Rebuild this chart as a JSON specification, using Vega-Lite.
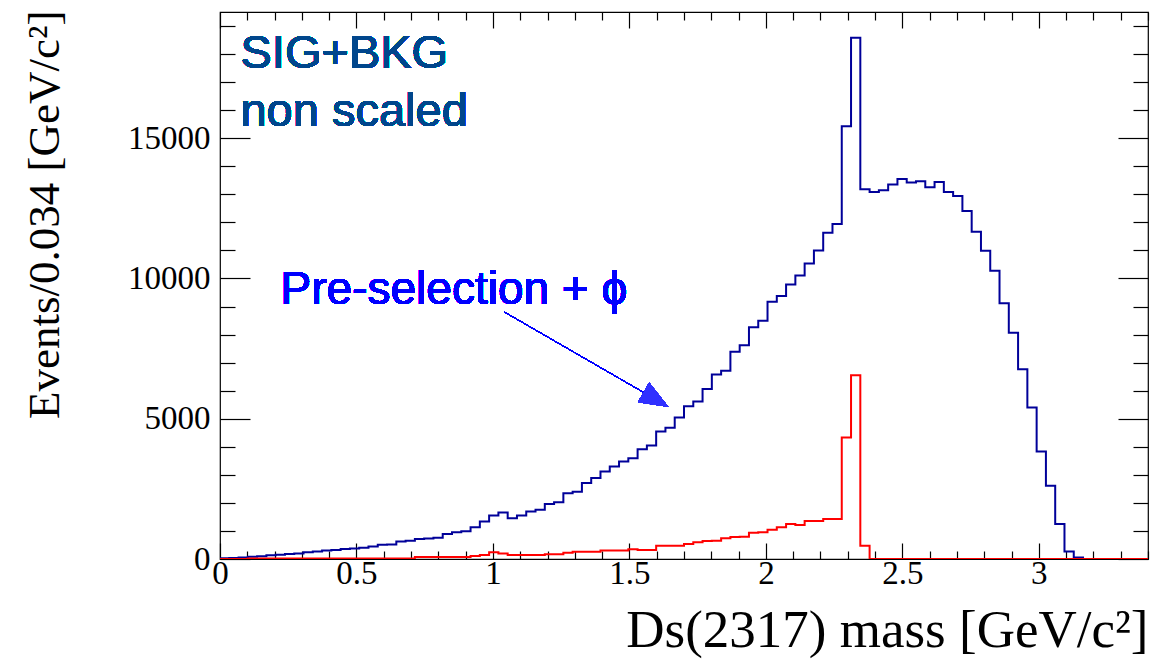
{
  "$schema": "https://vega.github.io/schema/vega-lite/v6.json",
  "width": 928,
  "height": 547,
  "autosize": {"type": "none"},
  "padding": {"left": 220, "top": 12, "right": 7, "bottom": 100},
  "background": "white",
  "config": {
    "view": {"stroke": "#000", "strokeWidth": 1.2},
    "axis": {"grid": false, "domain": false, "tickColor": "#000", "tickWidth": 1.2, "labelColor": "#000", "titleColor": "#000", "labelFont": "Liberation Serif", "titleFont": "Liberation Serif", "titleFontWeight": "normal"}
  },
  "data": {
    "values": [
      {"m": 0, "sb": 30, "s": 0}, {"m": 0.034, "sb": 40, "s": 0}, {"m": 0.068, "sb": 50, "s": 0},
      {"m": 0.102, "sb": 80, "s": 20}, {"m": 0.136, "sb": 100, "s": 20}, {"m": 0.17, "sb": 130, "s": 20},
      {"m": 0.204, "sb": 150, "s": 20}, {"m": 0.238, "sb": 180, "s": 20}, {"m": 0.272, "sb": 200, "s": 20},
      {"m": 0.306, "sb": 240, "s": 20}, {"m": 0.34, "sb": 270, "s": 20}, {"m": 0.374, "sb": 300, "s": 20},
      {"m": 0.408, "sb": 320, "s": 20}, {"m": 0.442, "sb": 360, "s": 20}, {"m": 0.476, "sb": 370, "s": 20},
      {"m": 0.51, "sb": 400, "s": 20}, {"m": 0.544, "sb": 450, "s": 20}, {"m": 0.578, "sb": 510, "s": 20},
      {"m": 0.612, "sb": 520, "s": 20}, {"m": 0.646, "sb": 620, "s": 20}, {"m": 0.68, "sb": 650, "s": 20},
      {"m": 0.714, "sb": 710, "s": 70}, {"m": 0.748, "sb": 730, "s": 70}, {"m": 0.782, "sb": 760, "s": 70},
      {"m": 0.816, "sb": 890, "s": 70}, {"m": 0.85, "sb": 950, "s": 70}, {"m": 0.884, "sb": 990, "s": 70},
      {"m": 0.918, "sb": 1130, "s": 110}, {"m": 0.952, "sb": 1340, "s": 140}, {"m": 0.986, "sb": 1550, "s": 237},
      {"m": 1.02, "sb": 1660, "s": 200}, {"m": 1.054, "sb": 1455, "s": 140}, {"m": 1.088, "sb": 1550, "s": 140},
      {"m": 1.122, "sb": 1690, "s": 140}, {"m": 1.156, "sb": 1755, "s": 140}, {"m": 1.19, "sb": 1965, "s": 165},
      {"m": 1.224, "sb": 2025, "s": 165}, {"m": 1.258, "sb": 2340, "s": 220}, {"m": 1.292, "sb": 2400, "s": 260},
      {"m": 1.326, "sb": 2706, "s": 260}, {"m": 1.36, "sb": 2884, "s": 260}, {"m": 1.394, "sb": 3120, "s": 300},
      {"m": 1.428, "sb": 3298, "s": 300}, {"m": 1.462, "sb": 3476, "s": 300}, {"m": 1.496, "sb": 3595, "s": 345},
      {"m": 1.53, "sb": 3916, "s": 320}, {"m": 1.564, "sb": 4050, "s": 320}, {"m": 1.598, "sb": 4544, "s": 475},
      {"m": 1.632, "sb": 4675, "s": 475}, {"m": 1.666, "sb": 5042, "s": 475}, {"m": 1.7, "sb": 5445, "s": 534},
      {"m": 1.734, "sb": 5611, "s": 594}, {"m": 1.768, "sb": 6063, "s": 641}, {"m": 1.802, "sb": 6575, "s": 653},
      {"m": 1.836, "sb": 6715, "s": 736}, {"m": 1.87, "sb": 7391, "s": 783}, {"m": 1.904, "sb": 7617, "s": 795},
      {"m": 1.938, "sb": 8258, "s": 938}, {"m": 1.972, "sb": 8495, "s": 950}, {"m": 2.006, "sb": 9171, "s": 1045},
      {"m": 2.04, "sb": 9373, "s": 1128}, {"m": 2.074, "sb": 9790, "s": 1246}, {"m": 2.108, "sb": 10110, "s": 1211},
      {"m": 2.142, "sb": 10538, "s": 1353}, {"m": 2.176, "sb": 11000, "s": 1353}, {"m": 2.21, "sb": 11627, "s": 1424},
      {"m": 2.244, "sb": 11940, "s": 1424}, {"m": 2.278, "sb": 15425, "s": 4333}, {"m": 2.312, "sb": 18583, "s": 6552},
      {"m": 2.346, "sb": 13183, "s": 475}, {"m": 2.38, "sb": 13087, "s": 0}, {"m": 2.414, "sb": 13147, "s": 0},
      {"m": 2.448, "sb": 13350, "s": 0}, {"m": 2.482, "sb": 13550, "s": 0}, {"m": 2.516, "sb": 13420, "s": 0},
      {"m": 2.55, "sb": 13470, "s": 0}, {"m": 2.584, "sb": 13250, "s": 0}, {"m": 2.618, "sb": 13443, "s": 0},
      {"m": 2.652, "sb": 13087, "s": 0}, {"m": 2.686, "sb": 12944, "s": 0}, {"m": 2.72, "sb": 12410, "s": 0},
      {"m": 2.754, "sb": 11670, "s": 0}, {"m": 2.788, "sb": 10986, "s": 0}, {"m": 2.822, "sb": 10274, "s": 0},
      {"m": 2.856, "sb": 9114, "s": 0}, {"m": 2.89, "sb": 8067, "s": 0}, {"m": 2.924, "sb": 6764, "s": 0},
      {"m": 2.958, "sb": 5397, "s": 0}, {"m": 2.992, "sb": 3831, "s": 0}, {"m": 3.026, "sb": 2609, "s": 0},
      {"m": 3.06, "sb": 1246, "s": 0}, {"m": 3.094, "sb": 270, "s": 0}, {"m": 3.128, "sb": 57, "s": 0},
      {"m": 3.162, "sb": 0, "s": 0}, {"m": 3.196, "sb": 0, "s": 0}, {"m": 3.23, "sb": 0, "s": 0},
      {"m": 3.264, "sb": 0, "s": 0}, {"m": 3.298, "sb": 0, "s": 0}, {"m": 3.332, "sb": 0, "s": 0},
      {"m": 3.366, "sb": 0, "s": 0}, {"m": 3.4, "sb": 0, "s": 0}
    ]
  },
  "layer": [
    {
      "mark": {"type": "line", "interpolate": "step-after", "color": "#000099", "strokeWidth": 2, "clip": true},
      "encoding": {
        "x": {
          "field": "m", "type": "quantitative",
          "scale": {"domain": [0, 3.4], "nice": false, "zero": false},
          "axis": {
            "orient": "bottom",
            "values": [0, 0.1, 0.2, 0.3, 0.4, 0.5, 0.6, 0.7, 0.8, 0.9, 1, 1.1, 1.2, 1.3, 1.4, 1.5, 1.6, 1.7, 1.8, 1.9, 2, 2.1, 2.2, 2.3, 2.4, 2.5, 2.6, 2.7, 2.8, 2.9, 3, 3.1, 3.2, 3.3, 3.4],
            "tickSize": {"condition": {"test": "abs(datum.value*2 - round(datum.value*2)) < 0.001", "value": -16}, "value": -8},
            "labelExpr": "abs(datum.value*2 - round(datum.value*2)) < 0.001 ? format(datum.value, '~g') : ''",
            "labelFontSize": 33, "labelPadding": 14, "labelOverlap": false, "labelFlush": false,
            "title": "Ds(2317) mass [GeV/c²]", "titleFontSize": 53,
            "titleAnchor": "end", "titleAlign": "right", "titleBaseline": "alphabetic",
            "titleX": 928, "titleY": 87
          }
        },
        "y": {
          "field": "sb", "type": "quantitative",
          "scale": {"domain": [0, 19500], "nice": false},
          "axis": {
            "orient": "left",
            "values": [0, 1000, 2000, 3000, 4000, 5000, 6000, 7000, 8000, 9000, 10000, 11000, 12000, 13000, 14000, 15000, 16000, 17000, 18000, 19000],
            "tickSize": {"condition": {"test": "datum.value % 5000 === 0", "value": -30}, "value": -15},
            "labelExpr": "datum.value % 5000 === 0 ? format(datum.value, 'd') : ''",
            "labelFontSize": 33, "labelPadding": 40, "labelOverlap": false, "labelFlush": false,
            "title": "Events/0.034 [GeV/c²]", "titleFontSize": 45,
            "titleAngle": 270, "titleAlign": "right", "titleBaseline": "alphabetic",
            "titleX": -162, "titleY": -2
          }
        }
      }
    },
    {
      "mark": {"type": "line", "interpolate": "step-after", "color": "#ff0000", "strokeWidth": 2, "clip": true},
      "encoding": {
        "x": {
          "field": "m", "type": "quantitative",
          "scale": {"domain": [0, 3.4], "nice": false, "zero": false},
          "axis": {
            "orient": "top",
            "values": [0, 0.1, 0.2, 0.3, 0.4, 0.5, 0.6, 0.7, 0.8, 0.9, 1, 1.1, 1.2, 1.3, 1.4, 1.5, 1.6, 1.7, 1.8, 1.9, 2, 2.1, 2.2, 2.3, 2.4, 2.5, 2.6, 2.7, 2.8, 2.9, 3, 3.1, 3.2, 3.3, 3.4],
            "tickSize": {"condition": {"test": "abs(datum.value*2 - round(datum.value*2)) < 0.001", "value": -16}, "value": -8},
            "labels": false, "title": null
          }
        },
        "y": {
          "field": "s", "type": "quantitative",
          "scale": {"domain": [0, 19500], "nice": false},
          "axis": {
            "orient": "right",
            "values": [0, 1000, 2000, 3000, 4000, 5000, 6000, 7000, 8000, 9000, 10000, 11000, 12000, 13000, 14000, 15000, 16000, 17000, 18000, 19000],
            "tickSize": {"condition": {"test": "datum.value % 5000 === 0", "value": -30}, "value": -15},
            "labels": false, "title": null
          }
        }
      }
    },
    {
      "mark": {"type": "text", "text": "SIG+BKG", "font": "Liberation Sans", "fontSize": 47, "color": "#00468c", "align": "left", "baseline": "alphabetic"},
      "encoding": {
        "x": {"datum": 0.075, "type": "quantitative", "scale": {"domain": [0, 3.4], "nice": false, "zero": false}, "axis": null},
        "y": {"datum": 17490, "type": "quantitative", "scale": {"domain": [0, 19500], "nice": false}, "axis": null}
      }
    },
    {
      "mark": {"type": "text", "text": "non scaled", "font": "Liberation Sans", "fontSize": 47, "color": "#00468c", "align": "left", "baseline": "alphabetic"},
      "encoding": {
        "x": {"datum": 0.075, "type": "quantitative", "scale": {"domain": [0, 3.4], "nice": false, "zero": false}, "axis": null},
        "y": {"datum": 15450, "type": "quantitative", "scale": {"domain": [0, 19500], "nice": false}, "axis": null}
      }
    },
    {
      "mark": {"type": "text", "text": "Pre-selection + ϕ", "font": "Liberation Sans", "fontSize": 46, "color": "#0000ff", "align": "left", "baseline": "alphabetic"},
      "encoding": {
        "x": {"datum": 0.222, "type": "quantitative", "scale": {"domain": [0, 3.4], "nice": false, "zero": false}, "axis": null},
        "y": {"datum": 9078, "type": "quantitative", "scale": {"domain": [0, 19500], "nice": false}, "axis": null}
      }
    },
    {
      "mark": {"type": "rule", "color": "#0000ff", "strokeWidth": 1},
      "encoding": {
        "x": {"datum": 1.044, "type": "quantitative", "scale": {"domain": [0, 3.4], "nice": false, "zero": false}, "axis": null},
        "y": {"datum": 8793, "type": "quantitative", "scale": {"domain": [0, 19500], "nice": false}, "axis": null},
        "x2": {"datum": 1.597},
        "y2": {"datum": 5685}
      }
    },
    {
      "mark": {"type": "point", "shape": "M-1,-0.79L1,0L-1,0.79Z", "size": 807, "angle": 30, "filled": true, "color": "#3030ff", "opacity": 1, "strokeWidth": 0},
      "encoding": {
        "x": {"datum": 1.597, "type": "quantitative", "scale": {"domain": [0, 3.4], "nice": false, "zero": false}, "axis": null},
        "y": {"datum": 5685, "type": "quantitative", "scale": {"domain": [0, 19500], "nice": false}, "axis": null}
      }
    }
  ],
  "resolve": {"axis": {"x": "independent", "y": "independent"}}
}
